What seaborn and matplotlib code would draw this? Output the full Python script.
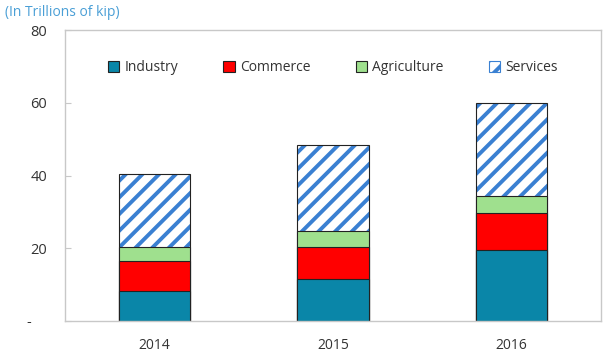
import matplotlib
matplotlib.use("Agg")
import matplotlib.pyplot as plt
from matplotlib.patches import Patch
import seaborn as sns
import numpy as np
import pandas as pd

years = ["2014", "2015", "2016"]
industry = [8.2, 11.5, 19.5]
commerce = [8.3, 8.8, 10.2]
agriculture = [3.8, 4.4, 4.6]
services = [20.1, 23.7, 25.6]
series_names = ["Industry", "Commerce", "Agriculture", "Services"]
yticks = [0, 20, 40, 60, 80]
ytick_labels = ["-    ", "20", "40", "60", "80"]

sns.set_style("white")
plt.rcParams["font.family"] = ["Open Sans", "DejaVu Sans"]
plt.rcParams["hatch.linewidth"] = 2.8

c_ind = "#0a86a8"
c_com = "#ff0000"
c_agr = "#9fe08e"
c_srv = "#3a80d2"

df = pd.DataFrame({"year": years, "ind": industry, "com": commerce,
                   "agr": agriculture, "srv": services})
df["c1"] = df["ind"]
df["c2"] = df["c1"] + df["com"]
df["c3"] = df["c2"] + df["agr"]
df["c4"] = df["c3"] + df["srv"]

fig = plt.figure(figsize=(6.03, 3.54), dpi=100)
ax = fig.add_axes([65 / 603, 33 / 354, 536 / 603, 291 / 354])

bw = 0.4
# services (hatched) layer
sns.barplot(data=df, x="year", y="c4", order=years, color="white", saturation=1,
            width=bw, hatch="//", edgecolor=c_srv, linewidth=0, errorbar=None, ax=ax)
sns.barplot(data=df, x="year", y="c4", order=years, color="#222222", fill=False,
            width=bw, linewidth=0.8, errorbar=None, ax=ax)
for col, c in [("c3", c_agr), ("c2", c_com), ("c1", c_ind)]:
    sns.barplot(data=df, x="year", y=col, order=years, color=c, saturation=1,
                width=bw, edgecolor="#222222", linewidth=0.8, errorbar=None, ax=ax)

ax.set_xlim(-0.5, 2.5)
ax.set_ylim(0, 80)
ax.set_yticks(yticks)
ax.set_yticklabels(ytick_labels)
ax.set_xlabel("")
ax.set_ylabel("")
ax.tick_params(axis="y", direction="in", length=4, color="#c8c8c8", pad=13,
               labelsize=10.5, labelcolor="#333333", left=True)
ax.tick_params(axis="x", length=0, pad=12, labelsize=10, labelcolor="#333333")
for s in ax.spines.values():
    s.set_visible(True)
    s.set_color("#c8c8c8")
    s.set_linewidth(1.0)

handles = [Patch(facecolor=c_ind, edgecolor="#222222", linewidth=0.8),
           Patch(facecolor=c_com, edgecolor="#222222", linewidth=0.8),
           Patch(facecolor=c_agr, edgecolor="#222222", linewidth=0.8),
           Patch(facecolor="white", edgecolor=c_srv, hatch="//", linewidth=0.8)]
leg = ax.legend(handles, series_names, ncol=4, loc="center", bbox_to_anchor=(0.5, 0.87),
                frameon=False, fontsize=10, handlelength=0.8, handleheight=0.8,
                handletextpad=0.4, columnspacing=3.25)
for t in leg.get_texts():
    t.set_color("#333333")

fig.text(5 / 603, 1 - 12 / 354, "(In Trillions of kip)", color="#4a9fd6",
         fontsize=10, ha="left", va="center")

fig.savefig("out.png", dpi=100)
